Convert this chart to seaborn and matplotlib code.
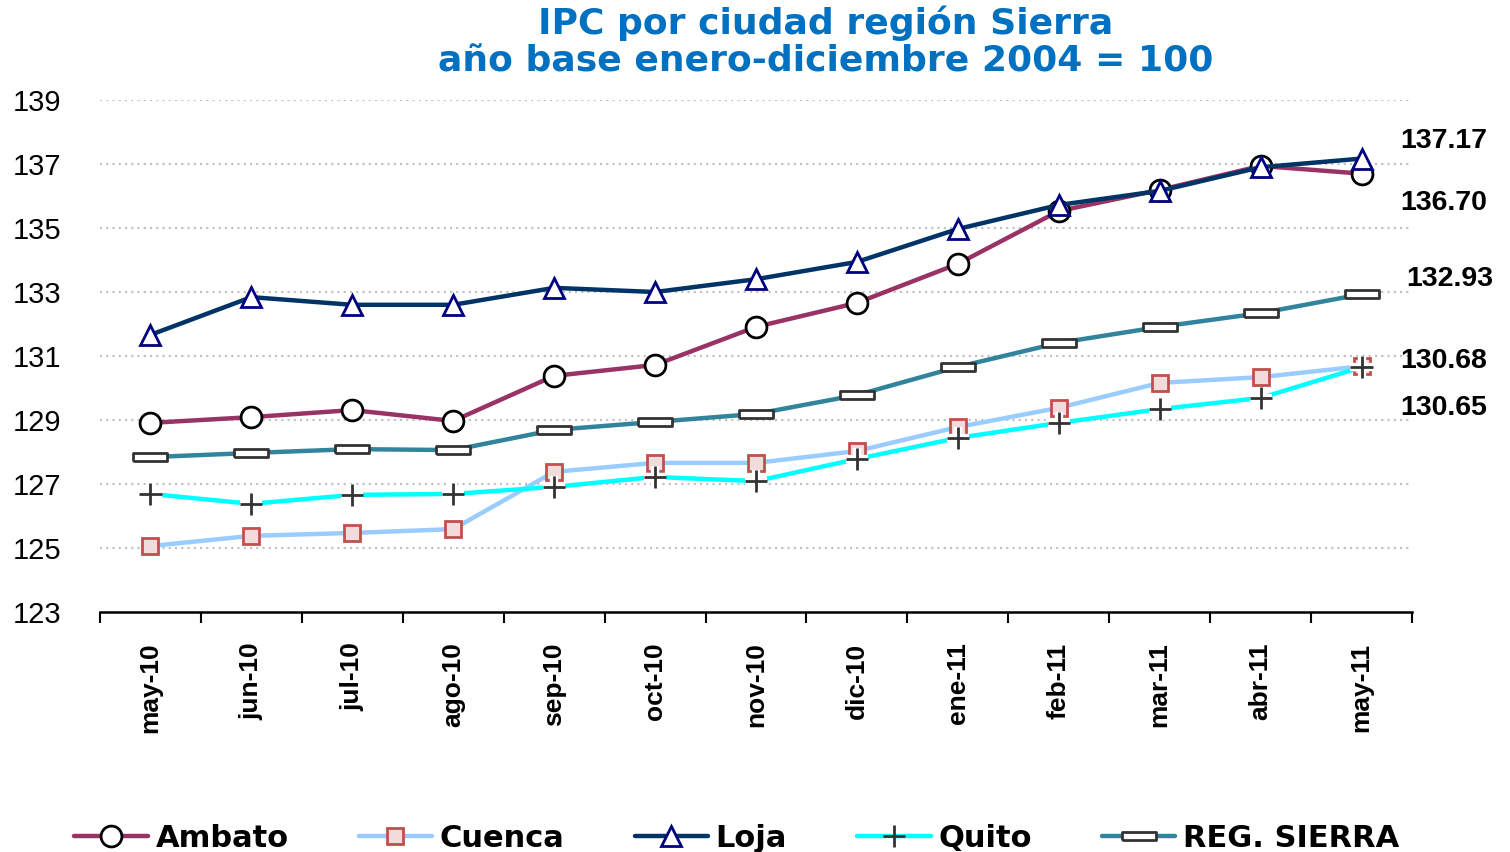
import numpy as np
import pandas as pd
import matplotlib
matplotlib.use('Agg')
import matplotlib.pyplot as plt
import matplotlib.patheffects as pe
from matplotlib.lines import Line2D
import seaborn as sns

# datos: IPC por ciudad, región Sierra
meses = ['may-10', 'jun-10', 'jul-10', 'ago-10', 'sep-10', 'oct-10', 'nov-10',
         'dic-10', 'ene-11', 'feb-11', 'mar-11', 'abr-11', 'may-11']
ambato = [128.91, 129.09, 129.31, 128.97, 130.38, 130.72, 131.91, 132.66, 133.88, 135.53, 136.19, 136.94, 136.70]
cuenca = [125.06, 125.38, 125.47, 125.59, 127.38, 127.66, 127.66, 128.03, 128.78, 129.38, 130.16, 130.34, 130.68]
loja = [131.66, 132.84, 132.60, 132.60, 133.13, 133.00, 133.40, 133.94, 134.97, 135.72, 136.16, 136.90, 137.17]
quito = [126.69, 126.38, 126.66, 126.69, 126.91, 127.22, 127.09, 127.78, 128.44, 128.91, 129.34, 129.69, 130.65]
sierra = [127.84, 127.97, 128.09, 128.06, 128.69, 128.94, 129.19, 129.78, 130.66, 131.41, 131.91, 132.34, 132.93]
series = ['Ambato', 'Cuenca', 'Loja', 'Quito', 'REG. SIERRA']
valores_finales = ['137.17', '136.70', '132.93', '130.68', '130.65']

df = pd.DataFrame({'mes': meses, 'Ambato': ambato, 'Cuenca': cuenca, 'Loja': loja,
                   'Quito': quito, 'REG. SIERRA': sierra})
df['pos'] = np.arange(len(meses))
largo = df.melt(id_vars=['mes', 'pos'], value_vars=series, var_name='ciudad', value_name='ipc')

sns.set_theme(style='white')
plt.rcParams['font.family'] = ['Liberation Sans', 'DejaVu Sans']
plt.rcParams['text.color'] = 'black'
plt.rcParams['xtick.color'] = 'black'
plt.rcParams['ytick.color'] = 'black'

# marcador rectangular plano para REG. SIERRA
rect = [(-1, -0.24), (1, -0.24), (1, 0.24), (-1, 0.24), (-1, -0.24)]

estilos = {
    'Ambato': dict(color='#993366', marker='o', markersize=15, markerfacecolor='white',
                   markeredgecolor='black', markeredgewidth=2),
    'Cuenca': dict(color='#99CCFF', marker='s', markersize=12, markerfacecolor='#F2DCDB',
                   markeredgecolor='#C0504D', markeredgewidth=2),
    'Loja': dict(color='#003366', marker='^', markersize=15, markerfacecolor='white',
                 markeredgecolor='#000080', markeredgewidth=2),
    'Quito': dict(color='#00FFFF', marker='+', markersize=16, markerfacecolor='none',
                  markeredgecolor='#333333', markeredgewidth=2),
    'REG. SIERRA': dict(color='#31849B', marker=rect, markersize=24, markerfacecolor='white',
                        markeredgecolor='#333333', markeredgewidth=2),
}

fig = plt.figure(figsize=(15.1, 8.52), dpi=100)
ax = fig.add_axes([0.0662, 0.2817, 0.8689, 0.6009])

for ciudad in series:
    sub = largo[largo['ciudad'] == ciudad]
    st = estilos[ciudad]
    if ciudad == 'Quito':
        sns.lineplot(data=sub, x='pos', y='ipc', color=st['color'], linewidth=3.2,
                     sort=False, ax=ax, legend=False)
        ax.plot(sub['pos'], sub['ipc'], linestyle='none', marker='+', markersize=16,
                markeredgecolor='#333333', markeredgewidth=2,
                path_effects=[pe.Stroke(linewidth=6, foreground='white'), pe.Normal()])
    else:
        sns.lineplot(data=sub, x='pos', y='ipc', color=st['color'], linewidth=3.2,
                     marker=st['marker'], markersize=st['markersize'],
                     markerfacecolor=st['markerfacecolor'], markeredgecolor=st['markeredgecolor'],
                     markeredgewidth=st['markeredgewidth'], sort=False, ax=ax, legend=False)

ax.set_xlim(-0.5, len(meses) - 0.5)
ax.set_ylim(123, 139)
ax.set_yticks(np.arange(123, 140, 2))
ax.set_xticks(df['pos'])
ax.set_xticklabels(meses, rotation=90, fontsize=19, fontweight='bold')
ax.set_xticks(np.arange(-0.5, len(meses), 1), minor=True)
ax.tick_params(axis='x', which='major', length=0, pad=22)
ax.tick_params(axis='x', which='minor', bottom=True, length=8, width=1.5, color='black',
               direction='out')
ax.tick_params(axis='y', length=0, labelsize=21, pad=28)
ax.set_xlabel('')
ax.set_ylabel('')

for v in np.arange(125, 140, 2):
    ax.axhline(v, color='#BFBFBF', linestyle=(0, (1, 2)), linewidth=1.5, zorder=0)

for s in ['left', 'right', 'top']:
    ax.spines[s].set_visible(False)
ax.spines['bottom'].set_color('black')
ax.spines['bottom'].set_linewidth(1.8)

# etiquetas del último valor
etiqueta_x = [12.38, 12.38, 12.44, 12.38, 12.38]
etiqueta_y = [137.72, 135.78, 133.41, 130.84, 129.38]
for txt, xx, yy in zip(valores_finales, etiqueta_x, etiqueta_y):
    ax.text(xx, yy, txt, ha='left', va='center', fontsize=20.5, fontweight='bold',
            color='black', clip_on=False)

fig.text(0.547, 0.993, 'IPC por ciudad región Sierra\naño base enero-diciembre 2004 = 100',
         ha='center', va='top', fontsize=26, fontweight='bold', color='#0070C0',
         linespacing=1.12, family=['DejaVu Sans'])

handles = []
for ciudad in series:
    st = estilos[ciudad]
    handles.append(Line2D([0], [0], color=st['color'], linewidth=3.2, marker=st['marker'],
                          markersize=st['markersize'], markerfacecolor=st['markerfacecolor'],
                          markeredgecolor=st['markeredgecolor'], markeredgewidth=st['markeredgewidth']))
leg = fig.legend(handles, series, loc='lower center', bbox_to_anchor=(0.488, -0.033), ncol=5,
                 frameon=False, prop={'size': 22, 'weight': 'bold', 'family': 'DejaVu Sans'},
                 handlelength=2.4, handletextpad=0.25, columnspacing=2.3)
for t in leg.get_texts():
    t.set_color('black')

fig.savefig('out.png', dpi=100)
